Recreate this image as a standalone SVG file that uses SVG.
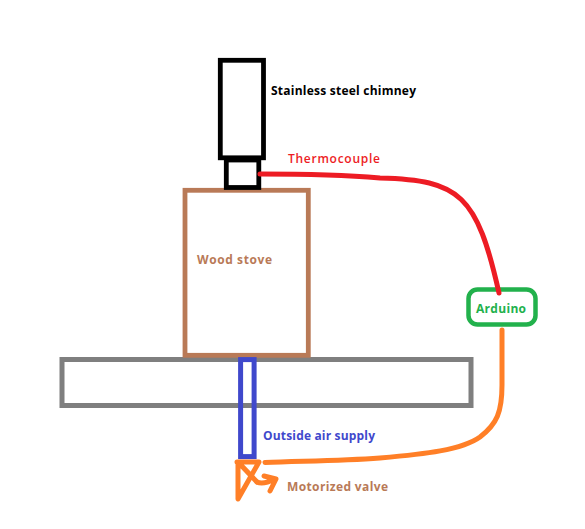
<svg xmlns="http://www.w3.org/2000/svg" width="585" height="529" viewBox="0 0 585 529">
<style>
.b{fill:none;stroke-linejoin:miter}
.w{fill:none;stroke-linecap:round;stroke-linejoin:round}
text{font-family:"Open Sans","Noto Sans",sans-serif;font-weight:700;font-size:12px}
</style>
<rect width="585" height="529" fill="#fff"/>
<g id="wall"><rect class="b" x="62" y="359.500" width="409" height="46" stroke="#7f7f7f" stroke-width="5"/></g>
<g id="stove"><rect class="b" x="185" y="190.300" width="123.300" height="165" stroke="#b97a57" stroke-width="4.800"/><text x="197" y="264" fill="#b97a57" textLength="75">Wood stove</text></g>
<g id="chimney"><rect class="b" x="220.300" y="60.300" width="43.200" height="97.500" stroke="#000" stroke-width="4.800"/><text x="271" y="95" fill="#000" textLength="145">Stainless steel chimney</text></g>
<g id="collar"><rect class="b" x="226.300" y="160" width="32.500" height="27.500" stroke="#000" stroke-width="4.800"/></g>
<g id="air-supply"><rect class="b" x="240.600" y="359.600" width="13.500" height="97" stroke="#3f48cc" stroke-width="5"/><text x="263" y="440" fill="#3f48cc" textLength="112">Outside air supply</text></g>
<g id="arduino"><rect x="468.500" y="289.500" width="67" height="35" rx="9" fill="none" stroke="#22b14c" stroke-width="4.500"/><text x="476" y="313" fill="#22b14c" textLength="50">Arduino</text></g>
<g id="thermocouple-label"><text x="288" y="163" fill="#ed1c24" textLength="92" style="font-weight:600">Thermocouple</text></g>
<g id="valve"><g class="w" stroke="#ff7f27" stroke-width="5"><path d="M237 462H259L238 499V462L257 482"/><path d="M257 482Q263 485 275 479M264 476L276 479L270 491"/></g><text x="287" y="491" fill="#b97a57" textLength="101">Motorized valve</text></g>
<g id="connectors" class="w">
<path d="M260 174C300 174 345 175 380 178C460 180 477 195 499 293" stroke="#ed1c24" stroke-width="5"/>
<path d="M502 330V385C502 412 497 424 480 437C462 450 425 454 380 458C340 461 300 461 265 462.500" stroke="#ff7f27" stroke-width="5"/>
</g>
</svg>
